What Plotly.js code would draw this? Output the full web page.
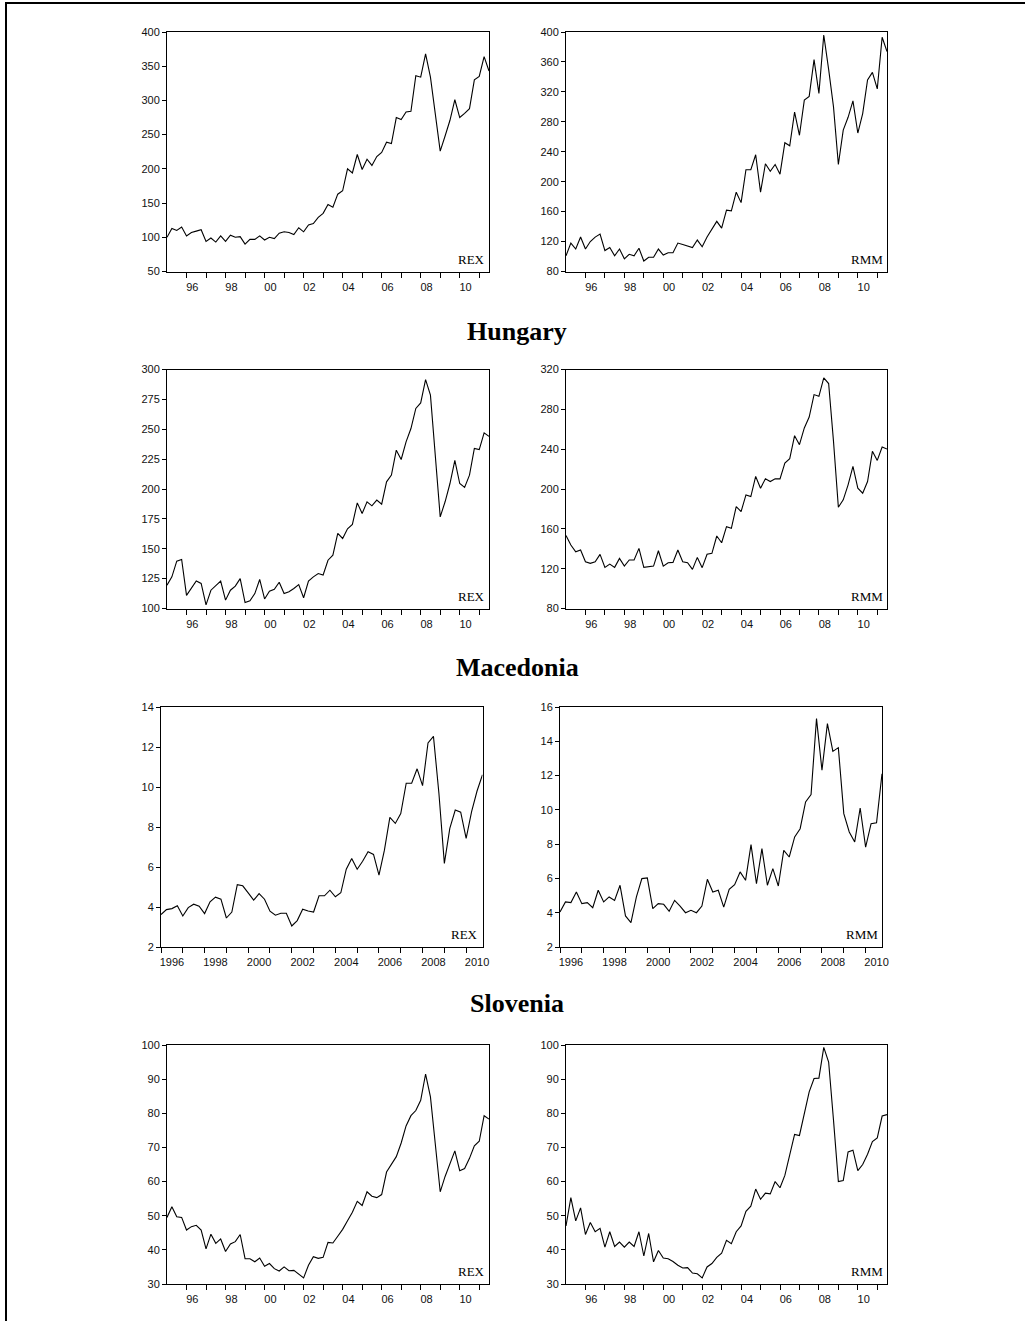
<!DOCTYPE html>
<html><head><meta charset="utf-8">
<script src="https://cdn.plot.ly/plotly-3.0.1.min.js"></script>
<style>html,body{margin:0;padding:0;background:#fff}#chart{width:1025px;height:1321px}</style>
</head><body><div id="chart"></div>
<script>
// Quarterly series; top, Hungary and Slovenia: 1995Q1-2011Q3; Macedonia: 1996Q1-2010Q4
const startMain = 1995;
const startMK = 1996;

const topREX = [100,113,110,115,102,107,109,111,94,99,93,102,94,103,100,101,90,97,97,102,96,100,98,106,108,107,104,114,108,118,120,129,135,148,144,163,168,200,194,221,199,214,205,218,224,239,237,275,272,283,284,336,334,368,334,280,226,248,271,301,275,281,288,330,335,364,343];
const topRMM = [101,118,110,126,110,120,126,130,108,112,101,110,97,103,101,111,94,99,99,110,102,105,105,118,116,114,112,122,113,126,137,147,138,162,161,186,172,216,216,236,186,224,214,223,210,252,248,293,262,309,314,363,318,396,350,300,223,269,286,308,265,291,336,346,324,393,374];

const hungaryREX = [119.5,126.5,139.6,141,111,117,123,121,103,115.3,119,123,107,115.3,118.7,125,105,106.4,112.5,124.3,108,114.5,116,122,112.5,114,116.7,120,109,123,126.5,129.3,128,140.4,144.6,162.8,158.6,166.7,170.3,188.4,179.5,189.3,185.9,190.7,187.3,206,211.6,232.5,224.7,239.5,250.6,267.4,272,291.6,278.5,224,176.7,189.3,204.6,224,204.6,201.3,211.6,233.9,233,247,244];
const hungaryRMM = [153.2,143.8,137,138.7,127,125.3,127,134.4,121.3,124.6,121.3,130.3,122.6,128.7,128.7,140.4,121.3,122,122.6,138,122.6,126,126.3,138.7,127,126,119.3,131.3,121,134.4,135.4,152.8,146,162.2,160.5,182.4,177.3,194.1,192.4,212.6,200.8,210.2,207.5,210.2,210.2,226,230.4,253.5,244.5,261.3,272.3,294.8,293.1,311.6,305.9,247.8,181.7,189.1,204.2,222.7,200.8,195.8,207.5,237.8,228.7,242.1,240.1];

const macedoniaREX = [3.62,3.87,3.92,4.06,3.55,3.97,4.14,4.04,3.67,4.26,4.49,4.39,3.45,3.75,5.12,5.06,4.71,4.34,4.67,4.39,3.79,3.59,3.69,3.69,3.05,3.32,3.89,3.80,3.75,4.56,4.56,4.84,4.51,4.71,5.89,6.43,5.89,6.29,6.76,6.63,5.59,6.84,8.48,8.18,8.67,10.19,10.19,10.91,10.07,12.2,12.53,9.69,6.18,7.93,8.85,8.74,7.43,8.77,9.80,10.61];
const macedoniaRMM = [4.04,4.63,4.59,5.21,4.53,4.59,4.29,5.31,4.63,4.92,4.72,5.60,3.81,3.42,4.92,5.99,6.03,4.24,4.53,4.49,4.08,4.72,4.39,4.0,4.14,4.0,4.39,5.95,5.21,5.31,4.33,5.36,5.64,6.38,5.89,7.97,5.69,7.74,5.60,6.57,5.56,7.64,7.25,8.42,8.90,10.46,10.89,15.32,12.31,15.03,13.41,13.63,9.78,8.71,8.13,10.11,7.83,9.19,9.25,12.11];

const sloveniaREX = [49.5,52.6,49.7,49.5,45.8,46.8,47.2,45.8,40.3,44.6,41.9,43.2,39.5,41.7,42.4,44.5,37.4,37.4,36.5,37.6,35.2,36,34.5,33.8,35,33.9,34,33,31.8,35.5,38,37.5,37.8,42.2,42,44,46,48.5,51,54.2,53,57,55.7,55.3,56.2,62.8,65,67.3,71.3,76.3,79.3,80.8,83.8,91.5,84.8,70,57,61.5,65.3,69,63.2,63.8,66.8,70.5,71.8,79.3,78.3];
const sloveniaRMM = [47,55.3,48.5,52.3,44.5,48,45.3,46.3,40.8,45.3,41,42.3,40.8,42.3,41,45.3,38.2,44.8,36.5,39.8,37.6,37.4,36.6,35.5,34.7,34.8,33.2,33,31.8,35,36,37.8,39,42.8,41.8,45.3,47,51.3,52.8,57.8,54.8,56.6,56.4,60,58.2,61.8,67.8,73.8,73.5,80,86.3,90.2,90.3,99.3,95,78,60,60.3,68.7,69.2,63.2,65,68,71.7,72.8,79.2,79.6];

const titles = ["Hungary", "Macedonia", "Slovenia"];

// y tick sets
const yTicks = [
  [50,100,150,200,250,300,350,400],
  [80,120,160,200,240,280,320,360,400],
  [100,125,150,175,200,225,250,275,300],
  [80,120,160,200,240,280,320],
  [2,4,6,8,10,12,14],
  [2,4,6,8,10,12,14,16],
  [30,40,50,60,70,80,90,100],
  [30,40,50,60,70,80,90,100]
];

// year tick marks and labels
const mainTickYears = [1996,1997,1998,1999,2000,2001,2002,2003,2004,2005,2006,2007,2008,2009,2010,2011];
const mainLabelYears = [1996,1998,2000,2002,2004,2006,2008,2010];
const mainLabelText = ["96","98","00","02","04","06","08","10"];
const mkTickYears = [1996,1997,1998,1999,2000,2001,2002,2003,2004,2005,2006,2007,2008,2009,2010];
const mkLabelYears = [1996,1998,2000,2002,2004,2006,2008,2010];
const mkLabelText = ["1996","1998","2000","2002","2004","2006","2008","2010"];

function quarters(start, n){ const a=[]; for(let i=0;i<n;i++) a.push(start + i/4); return a; }

const W = 1025, H = 1321;
const panels = [
  {data: topREX, start: startMain, px:[167,489], py:[32,271.5], name:"REX", mk:false},
  {data: topRMM, start: startMain, px:[566,887], py:[32,271.5], name:"RMM", mk:false},
  {data: hungaryREX, start: startMain, px:[167,489], py:[369.5,608.5], name:"REX", mk:false},
  {data: hungaryRMM, start: startMain, px:[566,887], py:[369.5,608.5], name:"RMM", mk:false},
  {data: macedoniaREX, start: startMK, px:[161,482.5], py:[707,947], name:"REX", mk:true},
  {data: macedoniaRMM, start: startMK, px:[560,882], py:[707,947], name:"RMM", mk:true},
  {data: sloveniaREX, start: startMain, px:[167,489], py:[1045,1284], name:"REX", mk:false},
  {data: sloveniaRMM, start: startMain, px:[566,887], py:[1045,1284], name:"RMM", mk:false}
];

const traces = [];
const layout = {
  width: W, height: H,
  margin: {l:0, r:0, t:0, b:0},
  paper_bgcolor: "#fff", plot_bgcolor: "#fff",
  showlegend: false,
  annotations: [],
  shapes: [
    {type:"line", xref:"paper", yref:"paper", x0:6/W, x1:6/W, y0:0, y1:1-3/H, line:{color:"#000", width:2}},
    {type:"line", xref:"paper", yref:"paper", x0:5/W, x1:1, y0:1-3/H, y1:1-3/H, line:{color:"#000", width:2}}
  ]
};

const tickFont = {family: "Liberation Sans, Arial, sans-serif", size: 11, color: "#111"};

panels.forEach((p, i) => {
  const k = i === 0 ? "" : String(i+1);
  const x = quarters(p.start, p.data.length);
  traces.push({
    type: "scatter", mode: "lines",
    x: x, y: p.data,
    xaxis: "x" + k, yaxis: "y" + k,
    line: {color: "#000", width: 1.1},
    hoverinfo: "skip"
  });
  const yt = yTicks[i];
  const off = p.mk ? 0.5 : 0.3;
  const labYears = p.mk ? mkLabelYears : mainLabelYears;
  layout["xaxis" + k] = {
    domain: [p.px[0]/W, p.px[1]/W],
    anchor: "y" + k,
    range: [x[0], x[x.length-1]],
    showgrid: false, zeroline: false,
    showline: true, mirror: true, linecolor: "#000", linewidth: 1,
    ticks: "outside", ticklen: 5, tickcolor: "rgba(0,0,0,0)",
    tickmode: "array",
    tickvals: labYears.map(v => v + off),
    ticktext: p.mk ? mkLabelText : mainLabelText,
    minor: {
      tickmode: "array",
      tickvals: p.mk ? mkTickYears : mainTickYears,
      ticks: "outside", ticklen: 5, tickwidth: 1, tickcolor: "#000",
      showgrid: false
    },
    tickfont: tickFont,
    fixedrange: true
  };
  layout["yaxis" + k] = {
    domain: [1 - p.py[1]/H, 1 - p.py[0]/H],
    anchor: "x" + k,
    range: [yt[0], yt[yt.length-1]],
    showgrid: false, zeroline: false,
    showline: true, mirror: true, linecolor: "#000", linewidth: 1,
    ticks: "outside", ticklen: 4, tickwidth: 1, tickcolor: "#000",
    tickmode: "array", tickvals: yt,
    tickfont: tickFont,
    fixedrange: true
  };
  layout.annotations.push({
    xref: "x" + k + " domain", yref: "y" + k + " domain",
    x: 1, y: 0, xanchor: "right", yanchor: "bottom",
    xshift: -2, yshift: 3,
    text: p.name, showarrow: false,
    font: {family: "Liberation Serif, Times New Roman, serif", size: 13, color: "#000"}
  });
});

const titleY = [331, 667, 1003];
titles.forEach((t, j) => {
  layout.annotations.push({
    xref: "paper", yref: "paper",
    x: 517/W, y: 1 - titleY[j]/H,
    xanchor: "center", yanchor: "middle",
    text: "<b>" + t + "</b>", showarrow: false,
    font: {family: "Liberation Serif, Times New Roman, serif", size: 26, color: "#000"}
  });
});

Plotly.newPlot("chart", traces, layout, {displayModeBar: false, staticPlot: true});
</script>
</body></html>
